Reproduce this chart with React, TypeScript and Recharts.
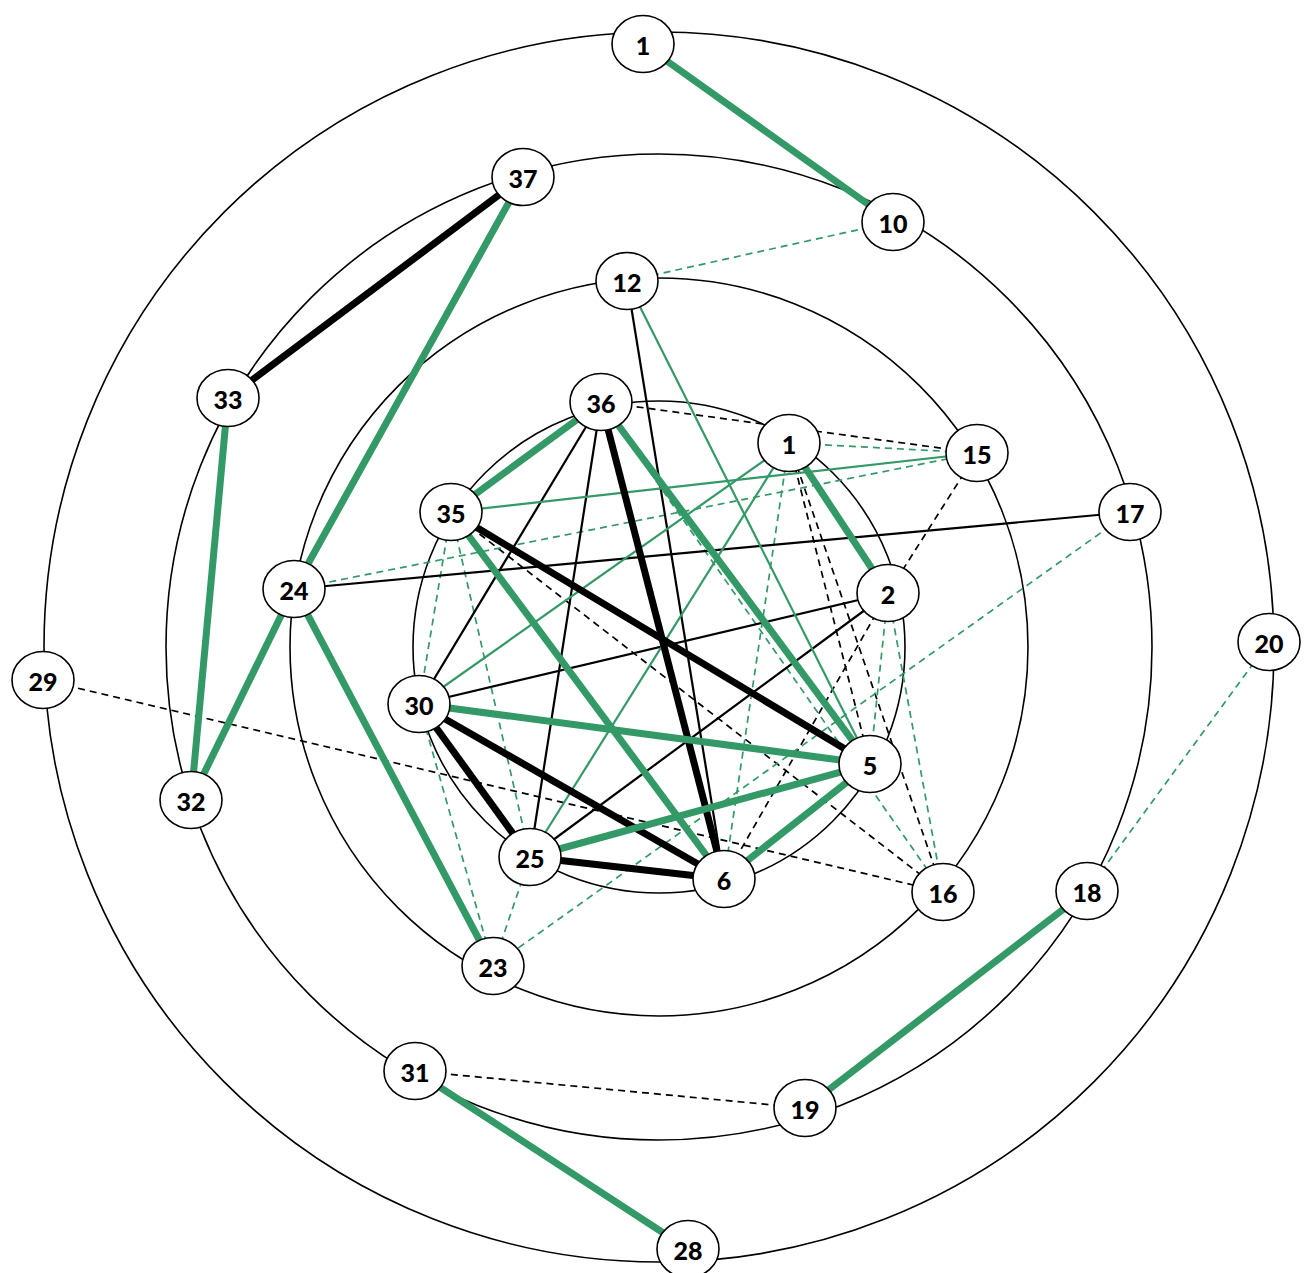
import React from 'react';
import { ScatterChart, Scatter, XAxis, YAxis } from 'recharts';

// network of nodes on concentric rings
const W = 1315;
const H = 1273;
const GREEN = '#339966';

const RING_CENTER = [{ x: 659, y: 647 }];
const RING_RADII = [615, 493, 369, 246];

// label + position (page pixels, y grows downwards)
const NODES = [
  { id: '1o', label: '1', x: 643, y: 44 },
  { id: '10', label: '10', x: 893, y: 222 },
  { id: '37', label: '37', x: 523, y: 177 },
  { id: '33', label: '33', x: 228, y: 398 },
  { id: '32', label: '32', x: 191, y: 800 },
  { id: '29', label: '29', x: 43, y: 680 },
  { id: '20', label: '20', x: 1269, y: 642 },
  { id: '17', label: '17', x: 1130, y: 512 },
  { id: '18', label: '18', x: 1087, y: 891 },
  { id: '19', label: '19', x: 805, y: 1108 },
  { id: '31', label: '31', x: 415, y: 1071 },
  { id: '28', label: '28', x: 688, y: 1249 },
  { id: '12', label: '12', x: 627, y: 281 },
  { id: '15', label: '15', x: 977, y: 453 },
  { id: '16', label: '16', x: 943, y: 892 },
  { id: '23', label: '23', x: 493, y: 966 },
  { id: '24', label: '24', x: 294, y: 589 },
  { id: '36', label: '36', x: 601, y: 402 },
  { id: '1i', label: '1', x: 789, y: 443 },
  { id: '2', label: '2', x: 888, y: 593 },
  { id: '5', label: '5', x: 870, y: 764 },
  { id: '6', label: '6', x: 724, y: 879 },
  { id: '25', label: '25', x: 530, y: 857 },
  { id: '30', label: '30', x: 419, y: 704 },
  { id: '35', label: '35', x: 451, y: 512 },
];

const THICK_GREEN = [
  ['1o', '10'], ['37', '24'], ['33', '32'], ['32', '24'], ['24', '23'],
  ['18', '19'], ['31', '28'], ['1i', '2'], ['36', '35'], ['36', '5'],
  ['35', '6'], ['30', '5'], ['25', '5'], ['5', '6'],
];
const THICK_BLACK = [
  ['37', '33'], ['36', '6'], ['35', '5'], ['30', '6'], ['30', '25'], ['25', '6'],
];
const THIN_GREEN = [['12', '5'], ['35', '15'], ['1i', '25'], ['1i', '30']];
const THIN_BLACK = [
  ['24', '17'], ['12', '6'], ['36', '30'], ['36', '25'], ['30', '2'], ['2', '25'],
];
const DASH_GREEN = [
  ['10', '12'], ['24', '15'], ['1i', '15'], ['17', '23'], ['18', '20'],
  ['23', '30'], ['23', '25'], ['35', '30'], ['35', '25'], ['36', '16'],
  ['1i', '6'], ['2', '5'], ['2', '16'],
];
const DASH_BLACK = [
  ['36', '15'], ['15', '2'], ['29', '16'], ['31', '19'], ['35', '16'],
  ['1i', '5'], ['1i', '16'], ['2', '6'],
];

const EDGE_GROUPS = [
  { edges: DASH_BLACK, stroke: '#000', width: 1.7, dash: '7 5' },
  { edges: DASH_GREEN, stroke: GREEN, width: 1.7, dash: '7 5' },
  { edges: THIN_BLACK, stroke: '#000', width: 2.2, dash: undefined },
  { edges: THIN_GREEN, stroke: GREEN, width: 2.2, dash: undefined },
  { edges: THICK_BLACK, stroke: '#000', width: 7, dash: undefined },
  { edges: THICK_GREEN, stroke: GREEN, width: 7, dash: undefined },
];

const byId: Record<string, { x: number; y: number }> = {};
NODES.forEach(n => { byId[n.id] = n; });

const ringData = RING_RADII.map(r => ({ x: RING_CENTER[0].x, y: RING_CENTER[0].y, r }));

function RingShape(props: any) {
  const { cx, cy, payload } = props;
  return <circle cx={cx} cy={cy} r={payload.r} fill="none" stroke="#000" strokeWidth={1.6} />;
}

function NodeShape(props: any) {
  const { cx, cy, payload } = props;
  return (
    <g>
      <ellipse cx={cx} cy={cy} rx={31} ry={28.5} fill="#fff" stroke="#000" strokeWidth={1.6} />
      <text
        x={cx}
        y={cy + 11}
        textAnchor="middle"
        fontFamily="Lato, 'Open Sans', sans-serif"
        fontWeight={900}
        fontSize={25}
        fill="#000"
      >
        {payload.label}
      </text>
    </g>
  );
}

const Nothing = () => <g />;

export default function App() {
  return (
    <div style={{ position: 'absolute', left: 0, top: 0, width: W, height: H, background: '#fff' }}>
      <ScatterChart width={W} height={H} margin={{ top: 0, right: 0, bottom: 0, left: 0 }}>
        <XAxis type="number" dataKey="x" domain={[0, W]} allowDataOverflow hide />
        <YAxis type="number" dataKey="y" domain={[0, H]} allowDataOverflow reversed hide />

        <Scatter data={ringData} shape={<RingShape />} isAnimationActive={false} />

        {EDGE_GROUPS.map((g, gi) =>
          g.edges.map(([a, b], i) => (
            <Scatter
              key={`e${gi}-${i}`}
              data={[byId[a], byId[b]]}
              line={{ stroke: g.stroke, strokeWidth: g.width, strokeDasharray: g.dash }}
              lineType="joint"
              shape={<Nothing />}
              isAnimationActive={false}
            />
          ))
        )}

        <Scatter data={NODES} shape={<NodeShape />} isAnimationActive={false} />
      </ScatterChart>
    </div>
  );
}
